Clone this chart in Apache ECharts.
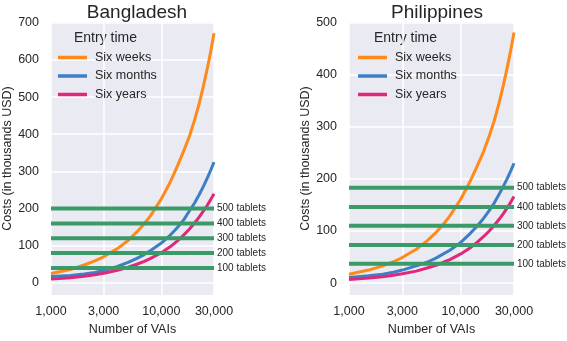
<!DOCTYPE html>
<html>
<head>
<meta charset="utf-8">
<script src="https://cdn.jsdelivr.net/npm/echarts@6/dist/echarts.min.js"></script>
<style>
  html, body { margin: 0; padding: 0; background: #fff; }
  #main { width: 567px; height: 341px; }
</style>
</head>
<body>
<div id="main"></div>
<script>
// number of VAIs (x, log scale)
var vais = [1000, 1500, 2000, 2500, 3000, 4000, 5000, 6000, 7000, 8000, 10000,
            12000, 14000, 16000, 18000, 20000, 22000, 24000, 26000, 28000, 30000];

// Bangladesh, costs in thousands USD
var bdWeeks  = [25, 36, 48, 59, 70, 92, 114, 137, 159, 181, 226, 270, 315, 356, 395, 438, 482, 528, 575, 622, 672];
var bdMonths = [17, 20, 24, 28, 33, 44, 55, 66, 76, 87, 107, 128, 149, 170, 194, 215, 237, 259, 281, 303, 325];
var bdYears  = [10, 14, 18, 22, 26, 34, 42, 50, 58, 66, 81, 97, 113, 129, 145, 161, 177, 193, 208, 224, 240];

// Philippines
var phWeeks  = [17, 25, 33, 41, 49, 65, 81, 97, 113, 129, 161, 193, 224, 252, 282, 312, 345, 378, 412, 446, 481];
var phMonths = [11, 14, 17, 21, 25, 33, 40, 48, 56, 63, 78, 94, 109, 124, 139, 154, 170, 185, 200, 215, 230];
var phYears  = [7, 10, 12, 15, 18, 23, 29, 34, 40, 45, 56, 67, 78, 89, 100, 111, 122, 133, 144, 155, 166];

// tablet cost levels
var tabletNames = ['100 tablets', '200 tablets', '300 tablets', '400 tablets', '500 tablets'];
var bdTablets = [40, 80, 120, 160, 200];
var phTablets = [37, 73, 110, 146, 183];

var entryNames = ['Six weeks', 'Six months', 'Six years'];
var xTicks = [1000, 3000, 10000, 30000];
var bdYTicks = [0, 100, 200, 300, 400, 500, 600, 700];
var phYTicks = [0, 100, 200, 300, 400, 500];

var colors = ['#fd8a1a', '#3c7fc4', '#e0287b'];
var green = '#3a9a68';
var font = 'Liberation Sans, Arial, sans-serif';
var ink = '#262626';

var myChart = echarts.init(document.getElementById('main'));

function pairs(ys) {
    return vais.map(function (v, i) { return [v, ys[i]]; });
}

function curve(name, ys, idx, color) {
    return {
        name: name, type: 'line', xAxisIndex: idx, yAxisIndex: idx,
        data: pairs(ys), showSymbol: false, symbol: 'none', smooth: false,
        lineStyle: { width: 3, color: color }, itemStyle: { color: color },
        z: 3
    };
}

function tabletLine(label, v, idx) {
    return {
        name: label, type: 'line', xAxisIndex: idx, yAxisIndex: idx,
        data: [[1000, v], [30000, v]], showSymbol: false, symbol: 'none',
        lineStyle: { width: 4, color: green }, z: 4,
        endLabel: {
            show: true, formatter: label, distance: 3,
            fontFamily: font, fontSize: 10, color: ink
        },
        legendHoverLink: false
    };
}

function xAxis(idx) {
    return {
        type: 'log', gridIndex: idx, min: 1000, max: 30000, logBase: 10,
        name: 'Number of VAIs', nameLocation: 'middle', nameGap: 24,
        nameTextStyle: { fontFamily: font, fontSize: 12.5, color: ink },
        axisLine: { show: false }, axisTick: { show: false, customValues: xTicks },
        axisLabel: {
            customValues: xTicks, margin: 10, showMinLabel: true, showMaxLabel: true,
            fontFamily: font, fontSize: 12.5, color: ink,
            formatter: function (v) { return Number(v).toLocaleString('en-US'); }
        },
        splitLine: { show: true, lineStyle: { color: '#fff', width: 1.5 } },
        minorSplitLine: { show: false }
    };
}

function yAxis(idx, min, max, ticks) {
    return {
        type: 'value', gridIndex: idx, min: min, max: max,
        name: 'Costs (in thousands USD)', nameLocation: 'middle', nameGap: 37,
        nameTextStyle: { fontFamily: font, fontSize: 12.5, color: ink },
        axisLine: { show: false }, axisTick: { show: false, customValues: ticks },
        axisLabel: { customValues: ticks, margin: 12, fontFamily: font, fontSize: 12.5, color: ink },
        splitLine: { show: true, lineStyle: { color: '#fff', width: 1.5 } }
    };
}

function legend(left, top) {
    return {
        data: entryNames, orient: 'vertical', left: left, top: top, padding: 0,
        icon: 'rect', itemWidth: 29, itemHeight: 3.5, itemGap: 5.5,
        textStyle: { fontFamily: font, fontSize: 12.5, color: ink, padding: [0, 0, 0, 3] },
        selectedMode: false
    };
}

var series = [
    curve('Six weeks', bdWeeks, 0, colors[0]),
    curve('Six months', bdMonths, 0, colors[1]),
    curve('Six years', bdYears, 0, colors[2]),
    curve('Six weeks', phWeeks, 1, colors[0]),
    curve('Six months', phMonths, 1, colors[1]),
    curve('Six years', phYears, 1, colors[2])
];
tabletNames.forEach(function (t, i) {
    series.push(tabletLine(t, bdTablets[i], 0));
    series.push(tabletLine(t, phTablets[i], 1));
});

var option = {
    animation: false,
    backgroundColor: '#fff',
    title: [
        { text: 'Bangladesh', left: 132, top: -2, textAlign: 'center',
          textStyle: { fontFamily: font, fontSize: 19, fontWeight: 'normal', color: ink } },
        { text: 'Philippines', left: 432, top: -2, textAlign: 'center',
          textStyle: { fontFamily: font, fontSize: 19, fontWeight: 'normal', color: ink } }
    ],
    grid: [
        { left: 49, top: 22, width: 165, height: 283, show: true, backgroundColor: '#EAEAF2', borderWidth: 0 },
        { left: 349, top: 22, width: 165, height: 283, show: true, backgroundColor: '#EAEAF2', borderWidth: 0 }
    ],
    xAxis: [xAxis(0), xAxis(1)],
    yAxis: [yAxis(0, -33, 702, bdYTicks), yAxis(1, -23, 501, phYTicks)],
    legend: [legend(58, 51), legend(358, 51)],
    graphic: [
        { type: 'text', left: 74, top: 31, style: { text: 'Entry time', fontFamily: font, fontSize: 14, fill: ink } },
        { type: 'text', left: 374, top: 31, style: { text: 'Entry time', fontFamily: font, fontSize: 14, fill: ink } }
    ],
    series: series
};

myChart.setOption(option);
</script>
</body>
</html>
